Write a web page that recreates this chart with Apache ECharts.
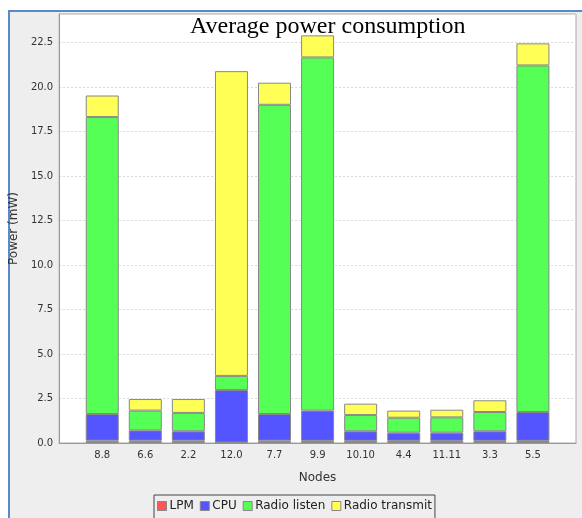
<!DOCTYPE html>
<html>
<head>
<meta charset="utf-8">
<script src="https://cdn.jsdelivr.net/npm/echarts@6/dist/echarts.min.js"></script>
<style>
  html, body { margin: 0; padding: 0; background: #ffffff; }
  #wrap { position: relative; width: 582px; height: 518px; overflow: hidden; }
  #frame { position: absolute; left: 8px; top: 10px; width: 600px; height: 600px;
           background: #eeeeee; border-left: 2px solid #5b88d0; border-top: 2px solid #5b88d0; }
  #chart { position: absolute; left: 0; top: 0; width: 582px; height: 518px; }
</style>
</head>
<body>
<div id="wrap"><div id="frame"></div><div id="chart"></div></div>
<script>
const categories = ['8.8', '6.6', '2.2', '12.0', '7.7', '9.9', '10.10', '4.4', '11.11', '3.3', '5.5'];
const lpm           = [0.13, 0.13, 0.13, 0.03, 0.13, 0.12, 0.12, 0.12, 0.12, 0.12, 0.12];
const cpu           = [1.50, 0.58, 0.53, 2.95, 1.50, 1.70, 0.54, 0.46, 0.46, 0.54, 1.62];
const radioListen   = [16.68, 1.11, 1.03, 0.79, 17.37, 19.84, 0.91, 0.84, 0.86, 1.08, 19.47];
const radioTransmit = [1.21, 0.65, 0.78, 17.12, 1.24, 1.24, 0.64, 0.40, 0.43, 0.66, 1.24];
const seriesNames = ['LPM', 'CPU', 'Radio listen', 'Radio transmit'];
const yTicks = [0, 2.5, 5, 7.5, 10, 12.5, 15, 17.5, 20, 22.5];

const pad = arr => [null].concat(arr, [null]);
const axisCats = [''].concat(categories, ['']);
const colors = ['#ff5555', '#5555ff', '#55ff55', '#ffff55'];
const dataSets = [lpm, cpu, radioListen, radioTransmit];

const chart = echarts.init(document.getElementById('chart'), null, { renderer: 'canvas' });
chart.setOption({
  backgroundColor: 'transparent',
  animation: false,
  color: colors,
  title: {
    text: 'Average power consumption',
    left: 185, top: 10,
    textStyle: { fontFamily: 'Liberation Serif', fontSize: 24, fontWeight: 'normal', color: '#000' }
  },
  legend: {
    bottom: -2, left: 154,
    itemWidth: 9, itemHeight: 9, itemGap: 6,
    padding: [5, 3, 8, 3],
    borderColor: '#444', borderWidth: 1,
    backgroundColor: '#eeeeee',
    icon: 'rect',
    textStyle: { fontFamily: 'DejaVu Sans', fontSize: 12, color: '#222', padding: [0, 0, 0, -2] },
    data: seriesNames.map((n, i) => ({ name: n, itemStyle: { borderColor: '#888', borderWidth: 1 } }))
  },
  grid: {
    left: 56, top: 14, width: 520, height: 429,
    show: true, backgroundColor: '#ffffff', borderColor: '#aaaaaa', borderWidth: 1
  },
  xAxis: {
    type: 'category',
    data: axisCats,
    boundaryGap: false,
    name: 'Nodes', nameLocation: 'middle', nameGap: 29,
    nameTextStyle: { fontFamily: 'DejaVu Sans', fontSize: 12, color: '#333' },
    axisLine: { lineStyle: { color: '#999' } },
    axisTick: { show: false },
    axisLabel: { fontFamily: 'DejaVu Sans', fontSize: 10, color: '#333', margin: 7, interval: 0 },
    splitLine: { show: false }
  },
  yAxis: {
    type: 'value',
    min: 0, max: 24.1, interval: 2.5,
    name: 'Power (mW)', nameLocation: 'middle', nameGap: 26,
    nameTextStyle: { fontFamily: 'DejaVu Sans', fontSize: 12, color: '#333' },
    axisLine: { show: true, lineStyle: { color: '#999' } },
    axisTick: { show: false },
    axisLabel: {
      fontFamily: 'DejaVu Sans', fontSize: 10, color: '#333', margin: 6,
      showMaxLabel: false,
      formatter: v => (yTicks.some(t => Math.abs(t - v) < 1e-6) ? v.toFixed(1) : '')
    },
    splitLine: { show: true, lineStyle: { color: '#d8d8d8', type: [2, 2] } }
  },
  series: seriesNames.map((n, i) => ({
    name: n,
    type: 'bar',
    stack: 'power',
    barWidth: 33,
    data: pad(dataSets[i]),
    itemStyle: { color: colors[i], borderColor: '#888888', borderWidth: 1 }
  }))
});
</script>
</body>
</html>
